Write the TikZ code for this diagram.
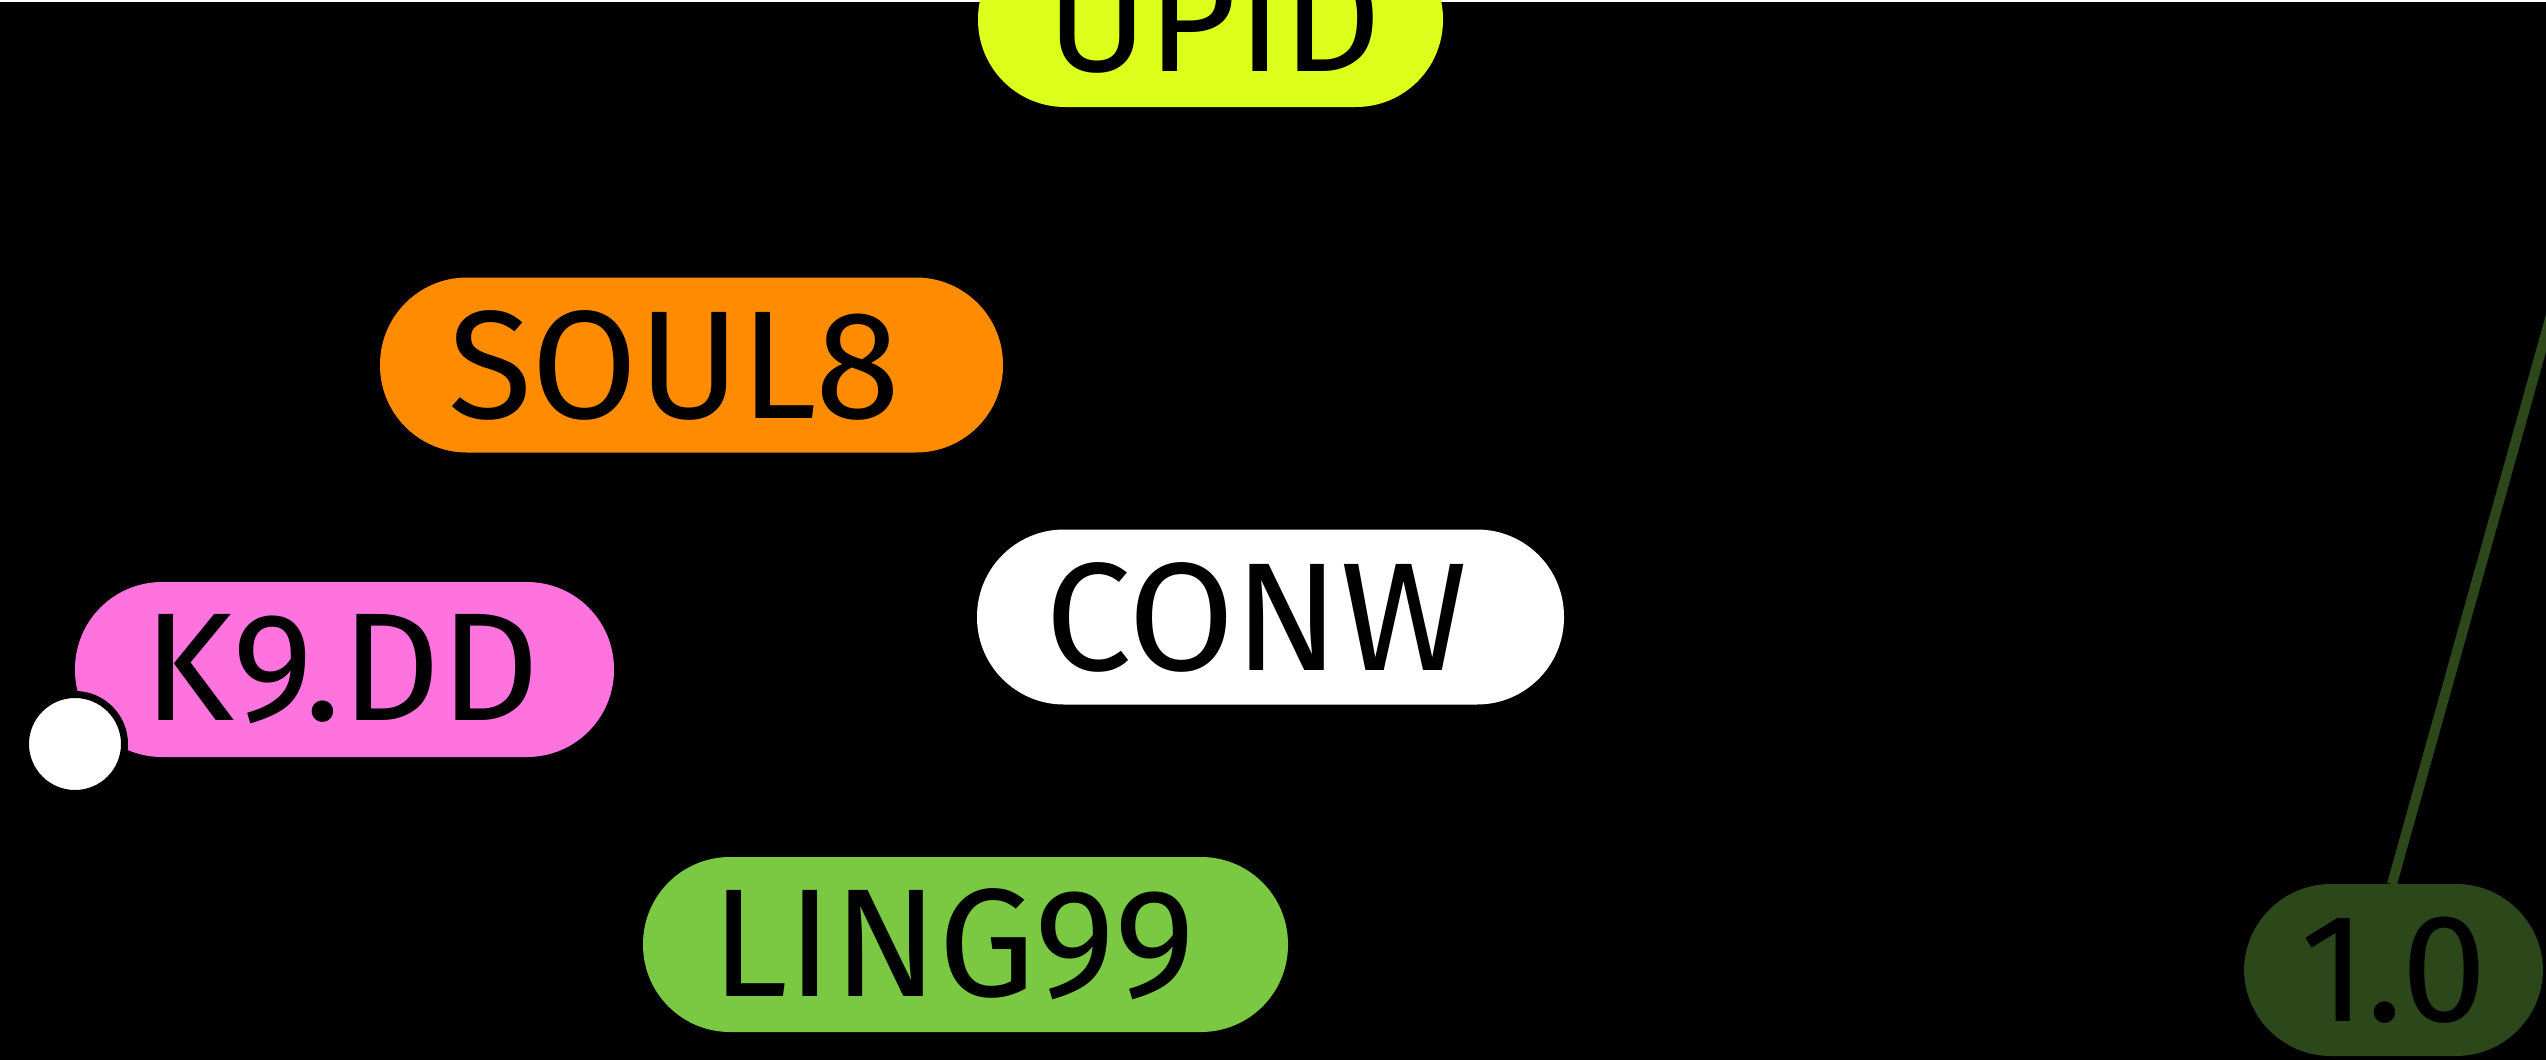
\documentclass[tikz,border=0pt]{standalone}
\usepackage{fontspec}
\setmainfont{Fira Sans}
\definecolor{upidc}{HTML}{DCFF1B}
\definecolor{soulc}{HTML}{FF8C00}
\definecolor{pinkc}{HTML}{FF73DF}
\definecolor{lingc}{HTML}{7BC943}
\definecolor{darkg}{HTML}{2C4719}
\begin{document}
\begin{tikzpicture}[x=1pt,y=-1pt,
  pill/.style={rectangle, rounded corners=87pt, minimum height=175pt,
    inner xsep=68pt, inner ysep=0pt, align=left, text=black,
    font=\fontsize{154}{160}\selectfont},
]
\useasboundingbox (0,0) rectangle (2546,1060);
\clip (0,0) rectangle (2546,1060);
\fill[black] (0,0) rectangle (2546,1060);
\draw[white, line width=1.5pt] (0,0.75) -- (2546,0.75);

\coordinate (far) at (2667,-100);

\node[pill, fill=upidc, text width=465pt-136pt] (upid) at (1210.5,19.5) {UPID};
\node[pill, fill=soulc, text width=623pt-136pt] (soul) at (691.5,365) {SOUL8};
\node[pill, fill=white, text width=587pt-136pt] (conw) at (1270.5,617) {CONW};
\node[pill, fill=pinkc, text width=539pt-136pt] (k9) at (344.5,669.5) {K9.DD};
\node[circle, fill=white, draw=black, line width=7pt, minimum size=99pt, inner sep=0pt] (dot) at (75,744) {};
\node[pill, fill=lingc, text width=645pt-136pt] (ling) at (965.5,944.5) {LING99};

\draw[darkg, line width=10pt] (far) -- (2392,884);
\node[pill, fill=darkg, minimum height=172pt, inner xsep=56pt, text width=299pt-112pt] (one) at (2393.5,970) {1.0};
\end{tikzpicture}
\end{document}
